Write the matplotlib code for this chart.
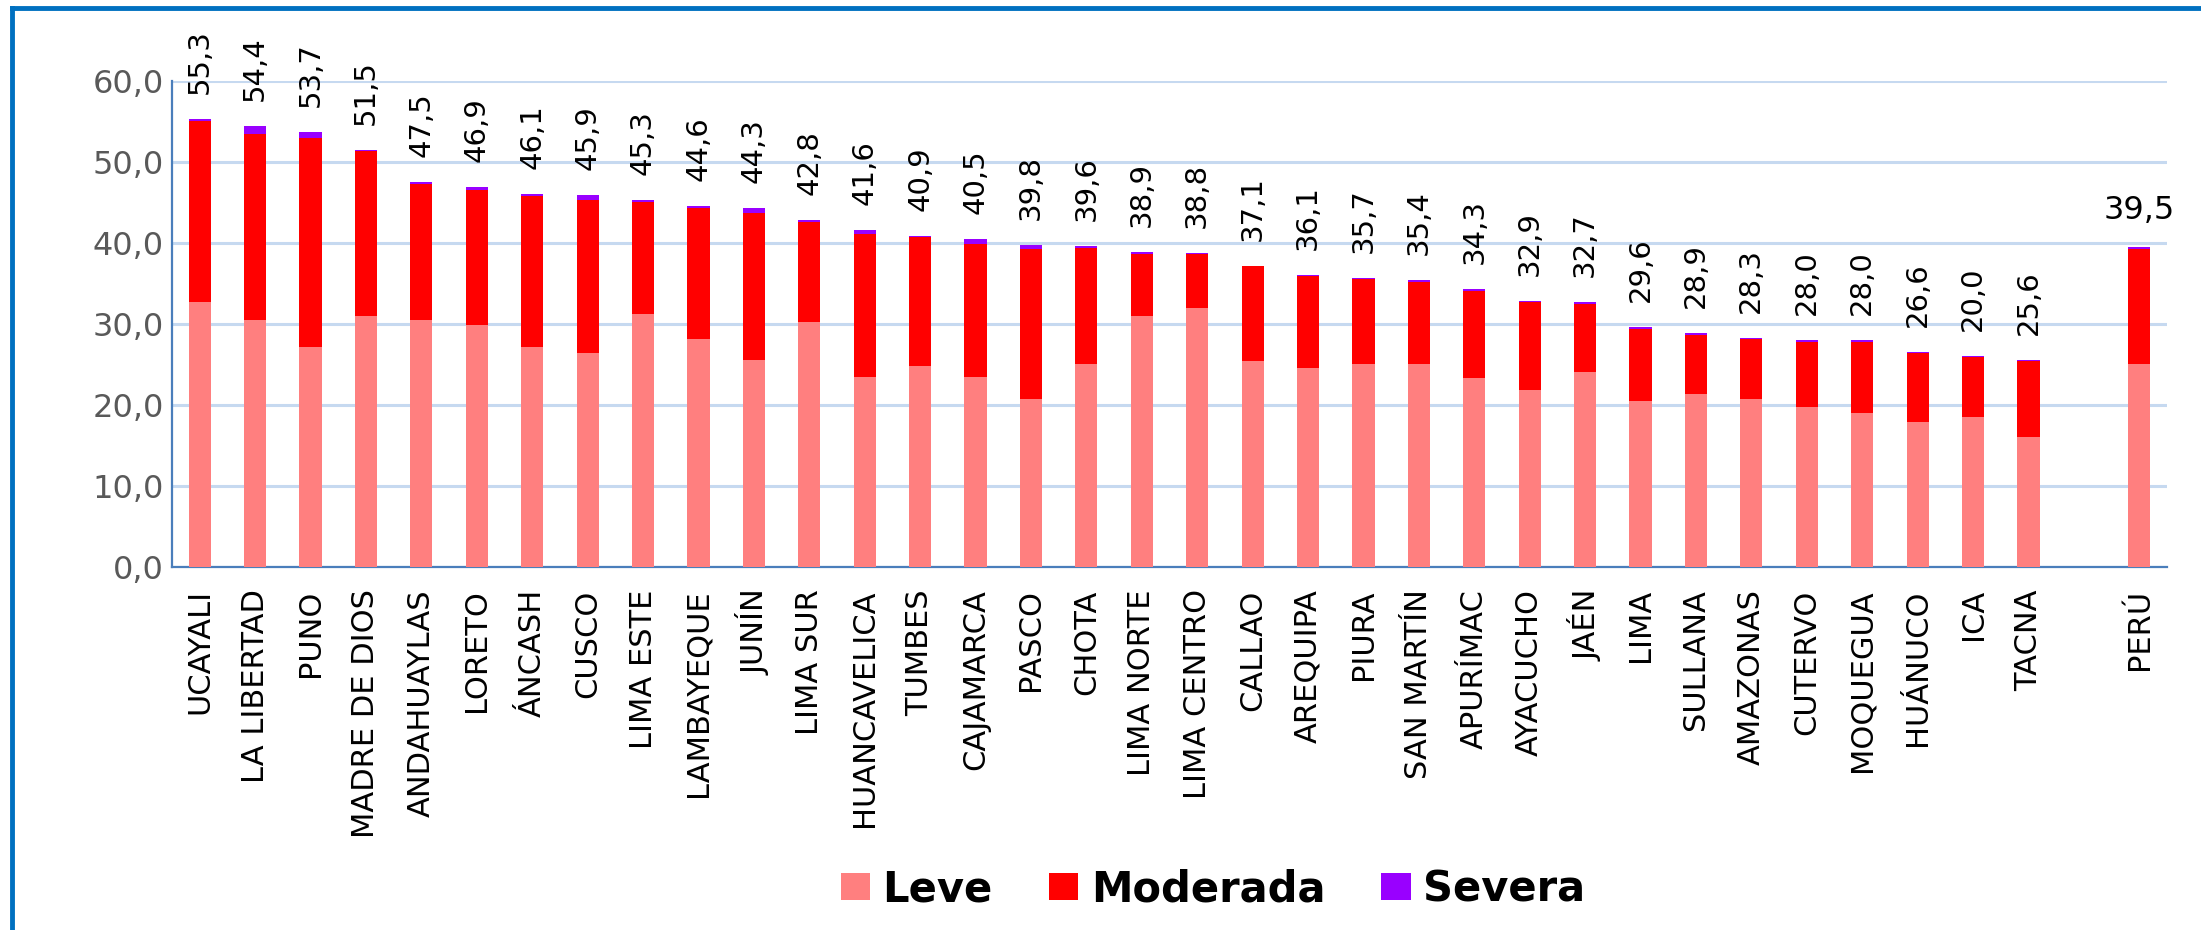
import matplotlib
matplotlib.use('Agg')
import matplotlib.pyplot as plt
from matplotlib.lines import Line2D
import numpy as np

categories = ["UCAYALI", "LA LIBERTAD", "PUNO", "MADRE DE DIOS", "ANDAHUAYLAS", "LORETO",
              "ÁNCASH", "CUSCO", "LIMA ESTE", "LAMBAYEQUE", "JUNÍN", "LIMA SUR",
              "HUANCAVELICA", "TUMBES", "CAJAMARCA", "PASCO", "CHOTA", "LIMA NORTE",
              "LIMA CENTRO", "CALLAO", "AREQUIPA", "PIURA", "SAN MARTÍN", "APURÍMAC",
              "AYACUCHO", "JAÉN", "LIMA", "SULLANA", "AMAZONAS", "CUTERVO", "MOQUEGUA",
              "HUÁNUCO", "ICA", "TACNA", "PERÚ"]
leve = [32.7, 30.5, 27.1, 31.0, 30.5, 29.9, 27.1, 26.4, 31.2, 28.2, 25.6, 30.2,
        23.5, 24.8, 23.5, 20.7, 25.1, 31.0, 32.0, 25.4, 24.6, 25.1, 25.1, 23.3,
        21.8, 24.1, 20.5, 21.3, 20.7, 19.7, 19.0, 17.9, 18.5, 16.1, 25.1]
moderada = [22.4, 22.9, 25.9, 20.3, 16.8, 16.7, 18.7, 18.9, 13.8, 16.1, 18.1, 12.4,
            17.6, 15.9, 16.4, 18.5, 14.3, 7.6, 6.6, 11.7, 11.3, 10.4, 10.1, 10.8,
            10.9, 8.4, 8.9, 7.4, 7.4, 8.1, 8.8, 8.5, 7.4, 9.3, 14.1]
severa = [0.2, 1.0, 0.7, 0.2, 0.2, 0.3, 0.3, 0.6, 0.3, 0.3, 0.6, 0.2,
          0.5, 0.2, 0.6, 0.6, 0.2, 0.3, 0.2, 0.0, 0.2, 0.2, 0.2, 0.2,
          0.2, 0.2, 0.2, 0.2, 0.2, 0.2, 0.2, 0.2, 0.2, 0.2, 0.3]
total_labels = [55.3, 54.4, 53.7, 51.5, 47.5, 46.9, 46.1, 45.9, 45.3, 44.6, 44.3, 42.8,
                41.6, 40.9, 40.5, 39.8, 39.6, 38.9, 38.8, 37.1, 36.1, 35.7, 35.4, 34.3,
                32.9, 32.7, 29.6, 28.9, 28.3, 28.0, 28.0, 26.6, 20.0, 25.6, 39.5]
yticks = [0, 10, 20, 30, 40, 50, 60]

c_leve, c_mod, c_sev = '#FF7F7F', '#FF0000', '#9900FF'

fig = plt.figure(figsize=(22.01, 9.30), dpi=100)
fig.patch.set_facecolor('white')
ax = fig.add_axes([172 / 2201, 1 - 567 / 930, (2167 - 172) / 2201, (567 - 81) / 930])

n = len(categories)
x = np.array(list(range(n - 1)) + [n])
leve_a = np.array(leve)
mod_a = np.array(moderada)
sev_a = np.array(severa)
w = 0.4
ax.bar(x, leve_a, w, color=c_leve, label='Leve', zorder=3)
ax.bar(x, mod_a, w, bottom=leve_a, color=c_mod, label='Moderada', zorder=3)
ax.bar(x, sev_a, w, bottom=leve_a + mod_a, color=c_sev, label='Severa', zorder=3)

ax.set_xlim(-0.5, n + 0.5)
ax.set_ylim(0, 60)
ax.set_yticks(yticks)
ax.set_yticklabels([f"{v:.1f}".replace('.', ',') for v in yticks])
ax.set_xticks(x)
ax.set_xticklabels(categories, rotation=90, fontsize=22, color='black',
                   family='DejaVu Sans')
ax.tick_params(axis='x', length=0, pad=16)
ax.tick_params(axis='y', length=0, pad=6, labelsize=23, labelcolor='#595959')

ax.yaxis.grid(True, color='#C6D9F0', linewidth=2.2, zorder=0)
ax.set_axisbelow(True)
for s in ['top', 'right']:
    ax.spines[s].set_visible(False)
for s in ['left', 'bottom']:
    ax.spines[s].set_color('#4A7EBB')
    ax.spines[s].set_linewidth(1.6)

tops = leve_a + mod_a + sev_a
for xi, t, lab, cat in zip(x, tops, total_labels, categories):
    txt = f"{lab:.1f}".replace('.', ',')
    if cat == 'PERÚ':
        ax.annotate(txt, (xi, t), xytext=(0, 20), textcoords='offset points',
                    ha='center', va='baseline', fontsize=23, color='black',
                    annotation_clip=False)
    else:
        ax.annotate(txt, (xi, t), xytext=(0, 18), textcoords='offset points',
                    ha='center', va='bottom', rotation=90, fontsize=21,
                    color='black', annotation_clip=False)

leg = fig.legend(loc='center', bbox_to_anchor=(1213 / 2201, 1 - 889 / 930), ncol=3,
                 frameon=False, prop={'family': 'DejaVu Sans', 'weight': 'bold', 'size': 30},
                 handlelength=0.7, handleheight=0.6, handletextpad=0.3,
                 columnspacing=1.35)

# left and top border lines
fig.add_artist(Line2D([12 / 2201, 12 / 2201], [0, 1 - 8 / 930], transform=fig.transFigure,
                      color='#0070C0', linewidth=3.5))
fig.add_artist(Line2D([12 / 2201, 1], [1 - 8 / 930, 1 - 8 / 930], transform=fig.transFigure,
                      color='#0070C0', linewidth=3.5))

fig.savefig('out.png', dpi=100, facecolor='white')
